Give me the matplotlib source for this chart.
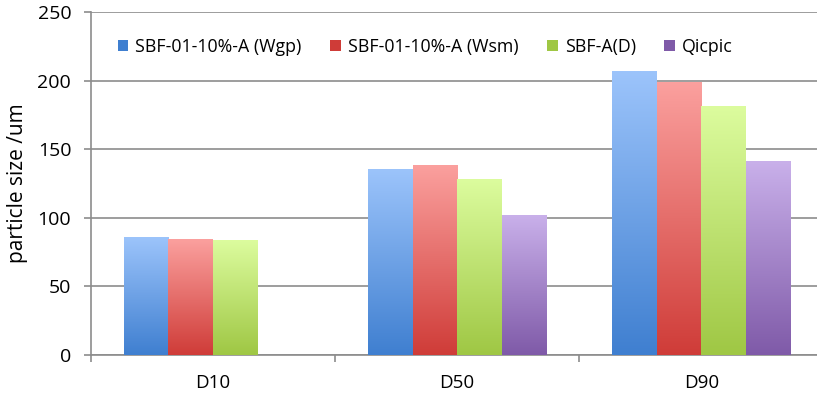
import numpy as np
import matplotlib
matplotlib.use("Agg")
import matplotlib.pyplot as plt
from matplotlib.patches import Patch
from matplotlib.colors import LinearSegmentedColormap

plt.rcParams['font.family'] = ['Open Sans', 'DejaVu Sans']

categories = ["D10", "D50", "D90"]
series = ["SBF-01-10%-A (Wgp)", "SBF-01-10%-A (Wsm)", "SBF-A(D)", "Qicpic"]
wgp = [86, 135, 206.5]
wsm = [84.3, 138.5, 199]
sbfad = [83.7, 128, 181]
qicpic = [0, 101.5, 141.5]
values = [wgp, wsm, sbfad, qicpic]

# (top colour, bottom colour) per series
grads = [("#9cc4fb", "#3f7fd0"),
         ("#fba09e", "#cf3c38"),
         ("#dcfc9e", "#9fc744"),
         ("#c9b0ea", "#7f5aa8")]

fig = plt.figure(figsize=(8.17, 3.96), dpi=100)
ax = fig.add_axes([0.111, 0.1035, 0.897, 0.8654])

x = np.arange(len(categories))
w = 0.182
offsets = (np.arange(4) - 1.5) * w

grad = np.linspace(1, 0, 256).reshape(-1, 1)
for i, vals in enumerate(values):
    cmap = LinearSegmentedColormap.from_list("g%d" % i, [grads[i][1], grads[i][0]])
    bars = ax.bar(x + offsets[i], vals, w, color=grads[i][1], zorder=2, linewidth=0)
    for b in bars:
        h = b.get_height()
        if h <= 0:
            continue
        ax.imshow(grad, cmap=cmap, aspect="auto", zorder=3,
                  extent=[b.get_x(), b.get_x() + b.get_width(), 0, h],
                  vmin=0, vmax=1)

ax.set_xlim(-0.5, 2.5)
ax.set_ylim(0, 250)
ax.set_yticks(np.arange(0, 251, 50))
ax.yaxis.grid(True, color="#8c8c8c", linewidth=1.2, zorder=0)
ax.set_axisbelow(True)

ax.set_xticks(x)
ax.set_xticklabels(categories)
ax.set_xticks(np.arange(-0.5, 3, 1), minor=True)
ax.tick_params(axis="x", which="major", length=0, pad=14, labelsize=13.5)
ax.tick_params(axis="x", which="minor", length=5, width=1.2, color="#8c8c8c", direction="out")
ax.tick_params(axis="y", length=5, width=1.2, color="#8c8c8c", pad=9, labelsize=14)

for s in ["top", "right"]:
    ax.spines[s].set_visible(False)
for s in ["left", "bottom"]:
    ax.spines[s].set_color("#8c8c8c")
    ax.spines[s].set_linewidth(1.2)

ax.set_ylabel("particle size /um", fontsize=15, labelpad=7)

handles = [Patch(facecolor=grads[i][1], edgecolor="none") for i in range(4)]
ax.legend(handles, series, ncol=4, frameon=False, loc="center left",
          bbox_to_anchor=(0.015, 0.90), fontsize=12.8, handlelength=0.6,
          handleheight=0.6, handletextpad=0.4, columnspacing=1.6)

fig.savefig("out.png", dpi=100)
